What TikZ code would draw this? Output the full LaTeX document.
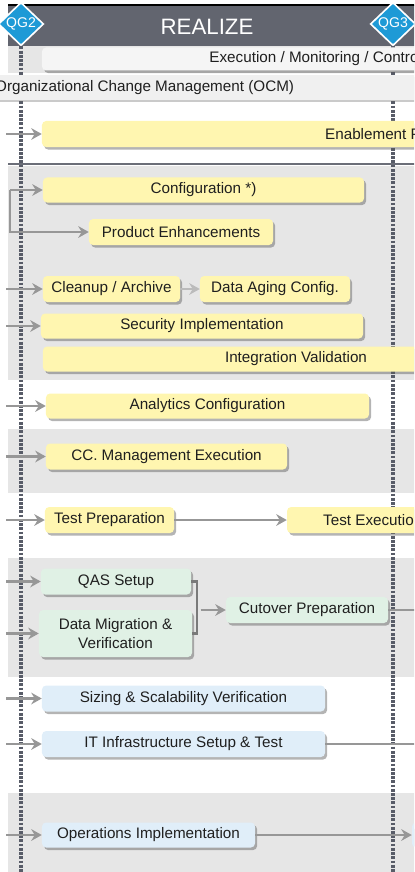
\documentclass[tikz,border=0pt]{standalone}
\usepackage{xcolor}
\usepackage{fontspec}
\setmainfont{Liberation Sans}
\usepackage{tikz}
\usetikzlibrary{arrows.meta,positioning,shapes.geometric,shadows}
\definecolor{bandgray}{HTML}{E6E6E6}
\definecolor{hdrgray}{HTML}{62656F}
\definecolor{sepgray}{HTML}{6B6E78}
\definecolor{dotgray}{HTML}{585C68}
\definecolor{arrgray}{HTML}{979797}
\definecolor{brkgray}{HTML}{7A7A7A}
\definecolor{taskyellow}{HTML}{FFF6B0}
\definecolor{taskgreen}{HTML}{E0F1E5}
\definecolor{taskblue}{HTML}{E0EEF9}
\definecolor{gateblue}{HTML}{1E9AD6}
\definecolor{execfill}{HTML}{F5F5F5}
\definecolor{ocmfill}{HTML}{F0F0F0}
\definecolor{txtdark}{HTML}{1F1F1F}
\tikzset{
	%Define standard arrow tip
	>={Stealth[length=9pt,width=10pt,inset=3pt]},
	%Define style for boxes
	task/.style={
		rectangle,
		rounded corners=3.5pt,
		minimum height=0.78cm,
		inner sep=2pt,
		text=txtdark,
		font=\fontsize{13}{15.5}\selectfont,
		align=center,
		drop shadow={shadow xshift=1.8pt, shadow yshift=-2.2pt, fill=black!65, opacity=0.45}},
	ytask/.style={task, fill=taskyellow},
	gtask/.style={task, fill=taskgreen},
	btask/.style={task, fill=taskblue},
	% quality gate diamonds
	gate/.style={
		diamond,
		fill=gateblue,
		draw=white, line width=1.4pt,
		minimum width=1.36cm, minimum height=1.3cm,
		inner sep=0pt,
		text=white,
		font=\fontsize{12}{13}\selectfont},
	% Define arrow style
	pil/.style={
		->,
		line width=2pt,
		draw=arrgray},
	pilline/.style={line width=2pt, draw=arrgray},
	brk/.style={line width=2pt, draw=brkgray},
	vline/.style={draw=dotgray, line width=2.6pt, dash pattern=on 2.4pt off 1.2pt}
}
\begin{document}
\begin{tikzpicture}[x=0.03cm, y=-0.03cm]
		\useasboundingbox (0,0) rectangle (414,872);
		\clip (0,0) rectangle (414,872);
		% bands
		\fill[bandgray] (8,46) rectangle (420,73);
		\fill[bandgray] (8,166) rectangle (420,380);
		\fill[bandgray] (8,429) rectangle (420,493);
		\fill[bandgray] (8,558) rectangle (420,677);
		\fill[bandgray] (8,793) rectangle (420,872);
		\draw[sepgray, line width=2.4pt] (8,164) -- (420,164);
		% header
		\fill[hdrgray] (8,5) rectangle (420,46);
		\draw[black, line width=1pt] (8,5) -- (420,5);
		\node[text=white, font=\fontsize{19}{22}\selectfont] (realize) at (207,27) {REALIZE};
		\node[gate] (qg2) at (21,24) {QG2};
		\node[gate] (qg3) at (393,24) {QG3};
		\coordinate (bot) at (0,872);
		\coordinate (lft) at (6,0);
		\coordinate (rgt) at (430,0);
		% phase borders
		\draw[vline] (qg2.south) -- (qg2.south |- bot);
		\draw[vline] (qg3.south) -- (qg3.south |- bot);
		% top rows
		\node[task, fill=execfill, minimum width=16.32cm, minimum height=0.69cm] (exec) at (314,59) {Execution / Monitoring / Contro};
		\path[fill=ocmfill, drop shadow={shadow xshift=0pt, shadow yshift=-1.8pt, fill=black!60, opacity=0.35}] (0,75) rectangle (420,100);
		\node[anchor=west, inner sep=0pt, text=txtdark, font=\fontsize{13}{15.5}\selectfont] (ocm) at (-5,87.5) {Organizational Change Management (OCM)};
		%nodes
		\node[ytask, minimum width=19.86cm] (enable) at (373,134) {Enablement P};
		\node[ytask, minimum width=9.63cm, minimum height=0.75cm] (config) at (203.5,190) {Configuration *)};
		\node[ytask, minimum width=5.52cm] (prodenh) at (181,232) {Product Enhancements};
		\node[ytask, minimum width=4.11cm] (cleanup) at (111.5,289) {Cleanup / Archive};
		\node[ytask, minimum width=4.5cm] (aging) at (275,289) {Data Aging Config.};
		\node[ytask, minimum width=9.66cm, minimum height=0.75cm] (security) at (202,326) {Security Implementation};
		\node[ytask, minimum width=15.18cm, minimum height=0.75cm] (integ) at (296,359) {Integration Validation};
		\node[ytask, minimum width=9.69cm, minimum height=0.75cm] (analytics) at (207.5,406) {Analytics Configuration};
		\node[ytask, minimum width=7.23cm] (ccmgmt) at (166.5,456.5) {CC. Management Execution};
		\node[ytask, minimum width=3.87cm] (testprep) at (109.5,520) {Test Preparation};
		\node[ytask, minimum width=4.89cm] (testexec) at (368.5,520) {Test Executio};
		\node[gtask, minimum width=4.5cm] (qas) at (116,581.5) {QAS Setup};
		\node[gtask, minimum width=4.59cm, minimum height=1.41cm] (datamig) at (115.5,633.5) {Data Migration \&\\Verification};
		\node[gtask, minimum width=4.86cm] (cutover) at (307,610) {Cutover Preparation};
		\node[btask, minimum width=8.49cm] (sizing) at (183.5,698.5) {Sizing \& Scalability Verification};
		\node[btask, minimum width=8.49cm] (itinfra) at (183.5,744) {IT Infrastructure Setup \& Test};
		\node[btask, minimum width=6.39cm, minimum height=0.75cm] (ops) at (148.5,835) {Operations Implementation};
		\node[btask, minimum width=3.24cm, minimum height=0.75cm] (opsnext) at (466,835) {};
		% incoming arrows from the previous phase
		\foreach \n in {enable,cleanup,security,analytics,ccmgmt,testprep,qas,datamig,sizing,itinfra,ops}
			\draw[pil] (\n.west -| lft) -- (\n.west);
		\coordinate (brn) at (10,0);
		\draw[pil] (config.west -| brn) -- (config.west);
		\draw[pil] (config.west -| brn) |- (prodenh.west);
		% inside the phase
		\draw[pil, draw=arrgray!65] (cleanup) -- (aging);
		\draw[pil] (testprep) -- (testexec);
		\coordinate (join) at (197,610);
		\draw[brk] (qas.east) -| (join) |- (datamig.east);
		\draw[pil, shorten <=3pt] (join) -- (cutover.west);
		% leaving the phase
		\draw[pilline] (cutover.east) -- (cutover.east -| rgt);
		\draw[pilline] (itinfra.east) -- (itinfra.east -| rgt);
		\draw[pil] (ops.east) -- (opsnext.west);
\end{tikzpicture}
\end{document}
